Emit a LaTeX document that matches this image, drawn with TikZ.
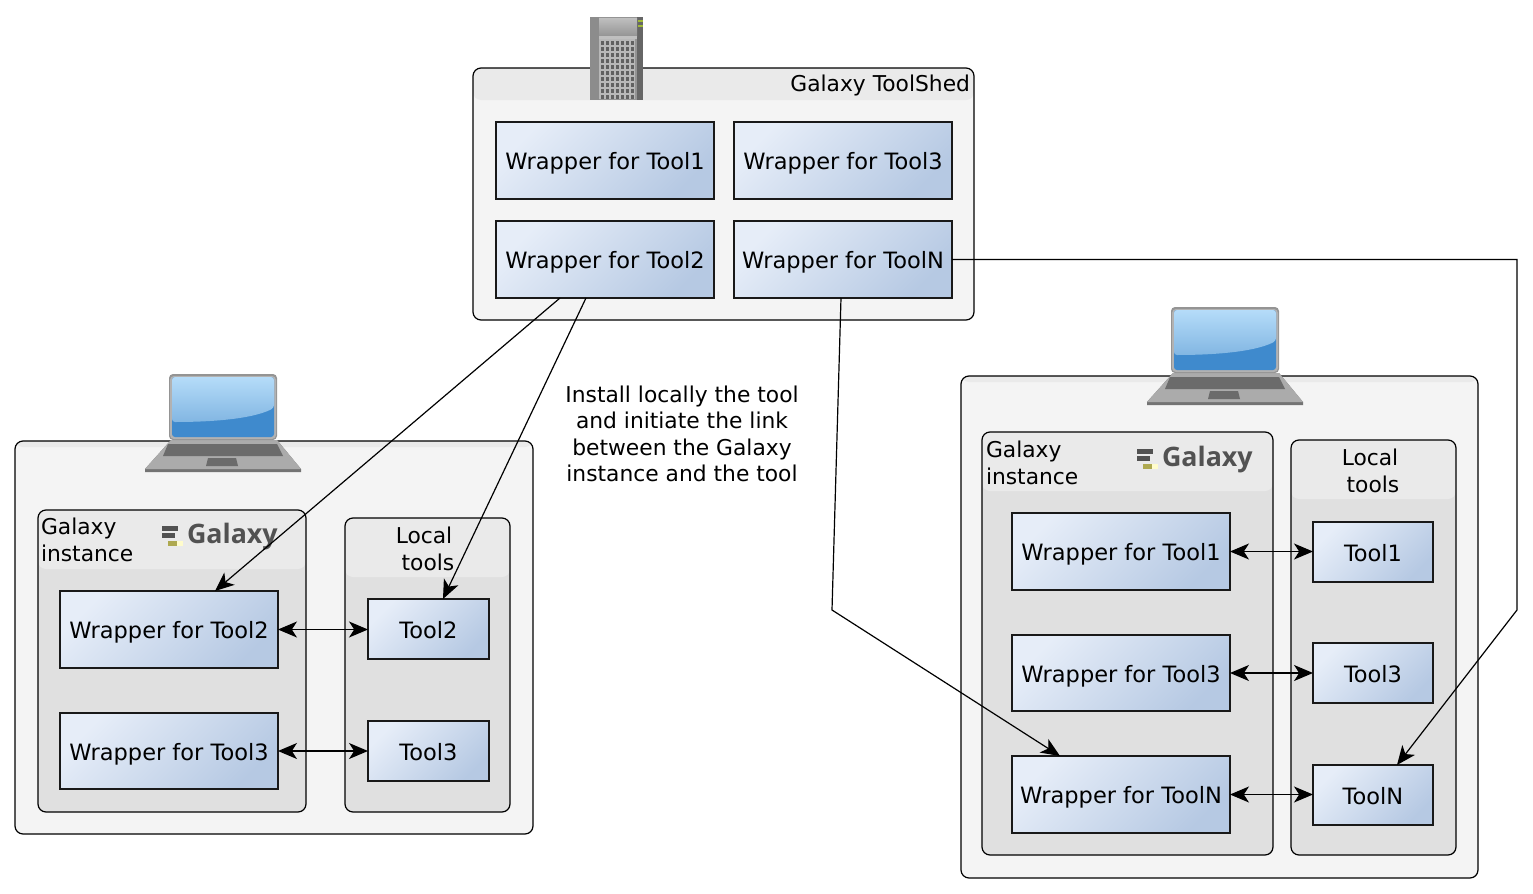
\documentclass[tikz,border=0pt]{standalone}
\usepackage{fontspec}
\setmainfont{DejaVu Sans}
\newfontfamily\logofont{Open Sans}
\usetikzlibrary{arrows.meta,calc}
\definecolor{boxlight}{HTML}{E6EDF8}
\definecolor{boxdark}{HTML}{B6C9E3}
\definecolor{panelfill}{HTML}{F4F4F4}
\definecolor{innerfill}{HTML}{E0E0E0}
\definecolor{hdrfill}{HTML}{EAEAEA}
\definecolor{screenlow}{HTML}{3F8ACD}
\definecolor{screenhi}{HTML}{B5DCF9}
\definecolor{screenmid}{HTML}{82B6E2}
\tikzset{
  lbl/.style={font=\fontsize{10.9}{13.25}\selectfont,inner sep=0pt,outer sep=0pt},
  wrapbox/.style={draw=black!90,line width=.62pt,top color=boxlight,bottom color=boxdark,shading angle=45,inner sep=0pt,outer sep=0pt,text height=9pt,text depth=0pt,font=\fontsize{11.25}{13.25}\selectfont},
  panelbox/.style={draw=black,line width=.6pt,rounded corners=4pt,inner sep=0pt,outer sep=0pt},
  conn/.style={draw=black,line width=.6pt,-{Stealth[length=9.5pt,width=8pt,inset=2.6pt]}},
  biconn/.style={draw=black,line width=.6pt,{Stealth[length=9.5pt,width=8pt,inset=2.6pt]}-{Stealth[length=9.5pt,width=8pt,inset=2.6pt]}},
  logotext/.style={font=\logofont\fontsize{13.4}{14}\selectfont\bfseries,text=black!68,inner sep=0pt,outer sep=0pt},
  laptop/.pic={
    \fill[black!55] (26,66) -- (132,66) -- (156,95) -- (156,98) -- (0,98) -- (0,95) -- cycle;
    \fill[black!33] (26,66) -- (132,66) -- (156,95) -- (0,95) -- cycle;
    \fill[black!58] (23,70) -- (132,70) -- (138,82) -- (18,82) -- cycle;
    \fill[black!58] (63,84) -- (91,84) -- (93,92) -- (61,92) -- cycle;
    \fill[black!42,rounded corners=2pt] (24,0) rectangle (132,66);
    \fill[black!30,rounded corners=2pt] (25,2) rectangle (131,65);
    \fill[screenlow,rounded corners=1.5pt] (27,3) rectangle (129,63);
    \shade[top color=screenhi,bottom color=screenmid,rounded corners=1.5pt] (27,3) -- (129,3) -- (129,34) .. controls (105,46) and (60,48) .. (27,48) -- cycle;
  },
  towericon/.pic={
    \fill[black!42] (0,0) rectangle (53,83);
    \fill[black!45] (0,0) rectangle (9,83);
    \fill[black!60] (47,0) rectangle (53,83);
    \shade[top color=black!25,bottom color=black!42] (9,1) rectangle (47,19);
    \fill[black!25] (9,19) rectangle (47,22);
    \fill[black!28] (9,22) rectangle (45,82);
    \foreach \c in {0,...,6}{\foreach \r in {0,...,9}{
      \fill[black!62] ({10.5+\c*5},{24+\r*6}) rectangle ++(3.4,3.8);
    }}
    \fill[yellow!70!green!80!black] (48,3) rectangle (53,5);
    \fill[yellow!70!green!80!black] (48,8) rectangle (53,10);
  },
  galaxylogo/.pic={
    \fill[black!68] (0,0) rectangle (16,5);
    \fill[black!68] (0,7) rectangle (13,12);
    \fill[yellow!60!black!90] (6,14.5) rectangle (15,19.5);
    \fill[yellow!20] (15,14.5) rectangle (21,19.5);
  }
}
\newcommand{\panelnode}[7]{%
  \node[panelbox,fill=#7,minimum width={(#4-#2)*0.5pt},minimum height={(#5-#3)*0.5pt},
    path picture={\fill[hdrfill] (path picture bounding box.north west) rectangle ($(path picture bounding box.north east)+(0,#6)$);}]
    (#1) at ({(#2+#4)/2},{(#3+#5)/2}) {};}
\newcommand{\wrapnode}[6]{%
  \node[wrapbox,minimum width={(#4-#2)*0.5pt},minimum height={(#5-#3)*0.5pt}]
    (#1) at ({(#2+#4)/2},{(#3+#5)/2}) {#6};}
\begin{document}
\begin{tikzpicture}[x=0.5pt,y=-0.5pt]
\useasboundingbox (0,0) rectangle (1533,894);
% ToolShed
\panelnode{shed}{473}{68}{974}{320}{32}{panelfill}
\pic at (590,17) {towericon};
\node[lbl,anchor=east] (shedlabel) at (970,85) {Galaxy ToolShed};
\wrapnode{sA}{496}{122}{714}{199}{Wrapper for Tool1}
\wrapnode{sC}{734}{122}{952}{199}{Wrapper for Tool3}
\wrapnode{sB}{496}{221}{714}{298}{Wrapper for Tool2}
\wrapnode{sN}{734}{221}{952}{298}{Wrapper for ToolN}
% Left machine
\panelnode{lm}{15}{441}{533}{834}{6}{panelfill}
\pic at (145,374) {laptop};
\panelnode{lg}{38}{510}{306}{812}{59}{innerfill}
\panelnode{ll}{345}{518}{510}{812}{59}{innerfill}
\node[lbl,anchor=west,align=left] (lgl) at (41,540) {Galaxy\\instance};
\pic at (162,526) {galaxylogo};
\node[logotext,anchor=west] (lgo) at (187,537) {Galaxy};
\node[lbl,align=center] (lll) at (428,549) {Local\kern4pt\\tools};
\wrapnode{lB}{60}{591}{278}{668}{Wrapper for Tool2}
\wrapnode{lC}{60}{713}{278}{789}{Wrapper for Tool3}
\wrapnode{ltB}{368}{599}{489}{659}{Tool2}
\wrapnode{ltC}{368}{721}{489}{781}{Tool3}
% Right machine
\panelnode{rm}{961}{376}{1478}{878}{6}{panelfill}
\pic at (1147,307) {laptop};
\panelnode{rg}{982}{432}{1273}{855}{59}{innerfill}
\panelnode{rl}{1291}{440}{1456}{855}{59}{innerfill}
\node[lbl,anchor=west,align=left] (rgl) at (986,463) {Galaxy\\instance};
\pic at (1137,449) {galaxylogo};
\node[logotext,anchor=west] (rgo) at (1162,460) {Galaxy};
\node[lbl,align=center] (rll) at (1373,471) {Local\kern3pt\\tools};
\wrapnode{rA}{1012}{513}{1230}{590}{Wrapper for Tool1}
\wrapnode{rC}{1012}{635}{1230}{711}{Wrapper for Tool3}
\wrapnode{rN}{1012}{756}{1230}{833}{Wrapper for ToolN}
\wrapnode{rtA}{1313}{522}{1433}{582}{Tool1}
\wrapnode{rtC}{1313}{643}{1433}{703}{Tool3}
\wrapnode{rtN}{1313}{765}{1433}{825}{ToolN}
% Note
\node[lbl,align=center] (note) at (682,434) {Install locally the tool\\and initiate the link\\between the Galaxy\\instance and the tool};
% Connectors
\draw[conn] ($(sB.south west)+(64,0)$) -- ($(lB.north west)+(155,0)$);
\draw[conn] ($(sB.south west)+(90,0)$) -- ($(ltB.north west)+(75,0)$);
\draw[conn] ($(sN.south west)+(107,0)$) -- (832,610) -- ($(rN.north west)+(48,0)$);
\draw[conn] (sN.east) -| (1517,610) -- ($(rtN.north west)+(84,0)$);
\draw[biconn] (lB.east) -- (lB.east -| ltB.west);
\draw[biconn] (lC.east) -- (lC.east -| ltC.west);
\draw[biconn] (rA.east) -- (rA.east -| rtA.west);
\draw[biconn] (rC.east) -- (rC.east -| rtC.west);
\draw[biconn] (rN.east) -- (rN.east -| rtN.west);
\end{tikzpicture}
\end{document}
